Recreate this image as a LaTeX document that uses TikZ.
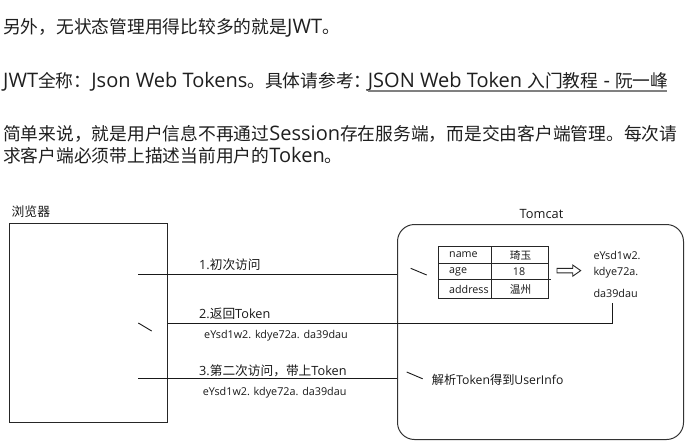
\documentclass[tikz,border=0pt]{standalone}
\usepackage{fontspec}
\setmainfont{Open Sans}
\newfontfamily\cjk{Noto Sans CJK SC}
\newcommand\fsz[1]{\fontsize{#1}{#1}\selectfont}
\newcommand\tc[1]{{\cjk\fsz{17.75}#1}}
\begin{document}
\begin{tikzpicture}[x=1pt,y=-1pt,
  toptext/.style={anchor=base west, inner sep=0pt, font=\fsz{20}, text=black!88},
  lbl/.style={anchor=west, inner sep=0pt, font=\fsz{12.7}, text=black!90},
  tok/.style={anchor=west, inner sep=0pt, font=\fsz{10.8}, text=black!90},
  cell/.style={inner sep=0pt, font=\fsz{10.7}, text=black!90},
  boxline/.style={draw=black!85, line width=1pt},
  conn/.style={draw=black!90, line width=1pt},
  barb/.style={draw=black!90, line width=0.9pt},
  linkline/.style={draw=black!50, line width=1.3pt}]
\useasboundingbox (0,0) rectangle (696,445);
\fill[white] (0,0) rectangle (696,445);

% top paragraphs
\node[toptext] (l1) at (3,33.4) {\tc{另外，无状态管理用得比较多的就是}JWT\tc{。}};
\node[toptext] (l2) at (3,87.5) {JWT\tc{全称：}Json Web Tokens\tc{。具体请参考：}};
\node[toptext] (link) at (367.7,87.5) {JSON Web Token \tc{入门教程} - \tc{阮一峰}};
\coordinate (ul1) at (367.7,91);
\coordinate (ul2) at (667.3,91);
\draw[linkline] (ul1) -- (ul2);
\node[toptext] (l3) at (3,140.2) {\tc{简单来说，就是用户信息不再通过}Session\tc{存在服务端，而是交由客户端管理。每次请}};
\node[toptext] (l4) at (3,162.6) {\tc{求客户端必须带上描述当前用户的}Token\tc{。}};

% browser
\node[lbl, font=\fsz{12.8}] (blabel) at (11.5,211.7) {\cjk 浏览器};
\node[boxline, minimum width=157.4pt, minimum height=198.7pt, inner sep=0pt, anchor=north west] (browser) at (9.3,223) {};

% tomcat
\node[lbl, anchor=center, font=\fsz{12.8}] (tlabel) at (541.5,214) {Tomcat};
\node[boxline, draw=black!80, rounded corners=17pt, minimum width=286pt, minimum height=215pt, inner sep=0pt, anchor=north west] (tomcat) at (397,224) {};

% table
\coordinate (tnw) at (438.7,246.7);
\coordinate (tse) at (548.5,298.3);
\draw[line width=0.9pt, black!85] (tnw) rectangle (tse);
\draw[line width=0.9pt, black!85] (438.7,263.3) -- (548.5,263.3);
\draw[line width=0.9pt, black!85] (438.7,279.7) -- (550.5,279.7);
\draw[line width=0.9pt, black!85] (491.7,246.7) -- (491.7,298.3);
\node[cell, anchor=west] (c11) at (449,255) {name};
\node[cell] (c12) at (520.5,255) {\cjk 琦玉};
\node[cell, anchor=west] (c21) at (449,271.5) {age};
\node[cell] (c22) at (519,271.5) {18};
\node[cell, anchor=west] (c31) at (449,289.3) {address};
\node[cell] (c32) at (520.5,289.3) {\cjk 温州};

% hollow arrow
\draw[line width=0.9pt, black!85, line join=miter] (557,268.3) -- (572.7,268.3) -- (572.7,265) -- (580.7,270.6) -- (572.7,276.2) -- (572.7,272.9) -- (557,272.9) -- cycle;

% token on server
\node[tok] (t1) at (593.3,255) {eYsd1w2.};
\node[tok] (t2) at (593.3,272.3) {kdye72a.};
\node[tok] (t3) at (593.3,293.3) {da39dau};

% connector 1
\coordinate (a1s) at (138,274.3);
\coordinate (a1e) at (426.7,275);
\draw[conn] (a1s) -- (a1s -| tomcat.west);
\draw[barb] (a1e) -- ++(-16,-6.7);
\node[lbl] (m1) at (199,264.3) {1.{\cjk 初次访问}};

% connector 2
\coordinate (a2s) at (612.5,303);
\coordinate (a2e) at (138.3,323);
\draw[conn] (a2s) -- (a2s |- 0,323.3) -- (browser.east |- 0,323.3);
\draw[barb] (a2e) -- ++(13.4,8);
\node[lbl] (m2) at (199,313.3) {2.{\cjk 返回}Token};
\node[tok] (k2) at (204,336) {eYsd1w2. kdye72a. da39dau};

% connector 3
\coordinate (a3s) at (138,378.8);
\coordinate (a3e) at (422.7,378.8);
\draw[conn] (a3s) -- (a3s -| tomcat.west);
\draw[barb] (a3e) -- ++(-16,-6.8);
\node[lbl] (m3) at (199,370.7) {3.{\cjk 第二次访问，带上}Token};
\node[tok] (k3) at (202.7,392.7) {eYsd1w2. kdye72a. da39dau};

\node[lbl, font=\fsz{12.2}] (parse) at (431.7,380) {{\cjk 解析}Token{\cjk 得到}UserInfo};
\end{tikzpicture}
\end{document}
